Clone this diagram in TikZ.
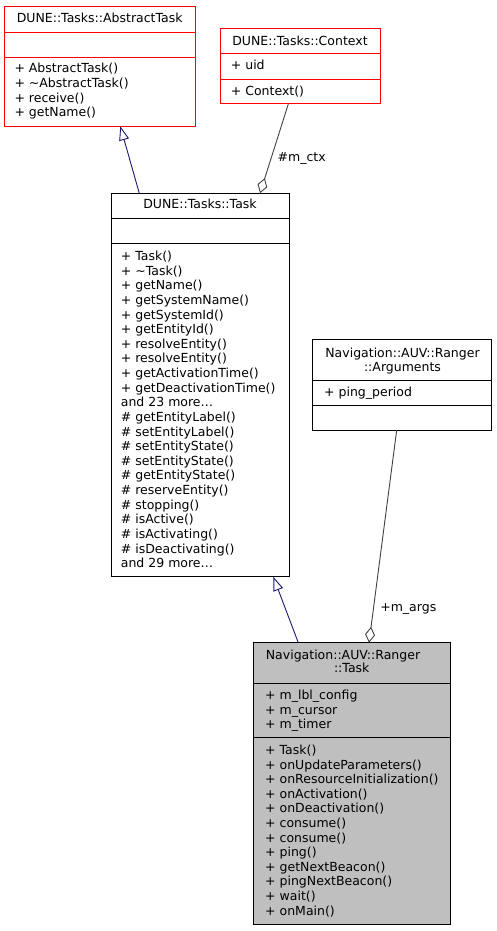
\documentclass[tikz,border=0pt]{standalone}
\usepackage{fontspec}
\setmainfont{DejaVu Sans}
\usetikzlibrary{arrows.meta}
\definecolor{edgeblue}{HTML}{191970}
\definecolor{edgegray}{HTML}{404040}
\definecolor{classgray}{HTML}{BFBFBF}

\begin{document}
\begin{tikzpicture}[x=1pt, y=-1pt,
    every node/.style={font=\fontsize{12.5}{14.6}\selectfont},
    classbox/.style={draw=black, line width=1pt, rectangle, inner sep=0pt, outer sep=0pt, anchor=north west},
    basebox/.style={classbox, draw=red},
    member/.style={anchor=base west, inner sep=0pt},
    title/.style={anchor=base, inner sep=0pt},
    inherit/.style={edgeblue, line width=0.9pt, -{Triangle[open, length=14pt, width=10pt]}},
    aggr/.style={edgegray, line width=0.9pt, {Diamond[open, length=16pt, width=10pt]}-}]
    \useasboundingbox (0,0) rectangle (497,931);

    % DUNE::Tasks::AbstractTask
    \node[basebox, minimum width=190.7pt, minimum height=119.6pt] (abstask) at (4.3,6.7) {};
    \draw[red, line width=1pt] (4.3,32.3) -- (195,32.3) (4.3,57.3) -- (195,57.3);
    \node[title] (abstask-t) at (99.7,22.8) {DUNE::Tasks::AbstractTask};
    \foreach \m [count=\i from 0] in {+ AbstractTask(), + \textasciitilde AbstractTask(), + receive(), + getName()}
        \node[member] (abstask-m\i) at (14.3,72.5+14.8*\i) {\m};

    % DUNE::Tasks::Context
    \node[basebox, minimum width=160pt, minimum height=75.7pt] (ctx) at (220,28.3) {};
    \draw[red, line width=1pt] (220,53.3) -- (380,53.3) (220,79.3) -- (380,79.3);
    \node[title] (ctx-t) at (300,45.2) {DUNE::Tasks::Context};
    \node[member] (ctx-a) at (230.7,69.5) {+ uid};
    \node[member] (ctx-m) at (230.7,95.2) {+ Context()};

    % DUNE::Tasks::Task
    \node[classbox, minimum width=178pt, minimum height=383.4pt] (task) at (111,193.3) {};
    \draw[line width=1pt] (111,218.3) -- (289,218.3) (111,243.3) -- (289,243.3);
    \node[title] (task-t) at (200,208.8) {DUNE::Tasks::Task};
    \foreach \m [count=\i from 0] in {+ Task(), + \textasciitilde Task(), + getName(), + getSystemName(),
        + getSystemId(), + getEntityId(), + resolveEntity(), + resolveEntity(), + getActivationTime(),
        + getDeactivationTime(), and 23 more\ldots, \# getEntityLabel(), \# setEntityLabel(),
        \# setEntityState(), \# setEntityState(), \# getEntityState(), \# reserveEntity(),
        \# stopping(), \# isActive(), \# isActivating(), \# isDeactivating(), and 29 more\ldots}
        \node[member] (task-m\i) at (120.7,260.5+14.63*\i) {\m};

    % Navigation::AUV::Ranger::Arguments
    \node[classbox, minimum width=179pt, minimum height=90.7pt] (args) at (312.7,339.3) {};
    \draw[line width=1pt] (312.7,380) -- (491.7,380) (312.7,405.7) -- (491.7,405.7);
    \node[title] (args-t1) at (402.5,357.8) {Navigation::AUV::Ranger};
    \node[title] (args-t2) at (402.5,371.2) {::Arguments};
    \node[member] (args-a) at (324,396.2) {+ ping\_period};

    % Navigation::AUV::Ranger::Task
    \node[classbox, fill=classgray, minimum width=196.7pt, minimum height=281.6pt] (ranger) at (253.3,642.7) {};
    \draw[line width=1pt] (253.3,683.3) -- (450,683.3) (253.3,737.7) -- (450,737.7);
    \node[title] (ranger-t1) at (343,659.5) {Navigation::AUV::Ranger};
    \node[title] (ranger-t2) at (351.7,672.8) {::Task};
    \foreach \m [count=\i from 0] in {+ m\_lbl\_config, + m\_cursor, + m\_timer}
        \node[member] (ranger-a\i) at (265,699.5+14.6*\i) {\m};
    \foreach \m [count=\i from 0] in {+ Task(), + onUpdateParameters(), + onResourceInitialization(),
        + onActivation(), + onDeactivation(), + consume(), + consume(), + ping(), + getNextBeacon(),
        + pingNextBeacon(), + wait(), + onMain()}
        \node[member] (ranger-m\i) at (265,754.5+14.6*\i) {\m};

    % Vererbung
    \draw[inherit] ([xshift=28.3pt]task.north west) -- ([xshift=116pt]abstask.south west);
    \draw[inherit] ([xshift=45pt]ranger.north west) -- ([xshift=162.3pt]task.south west);

    % Aggregation
    \draw[aggr] ([xshift=149pt]task.north west) -- ([xshift=68.3pt]ctx.south west);
    \node (ctx-lbl) at (301.7,158.3) {\#m\_ctx};
    \draw[aggr] ([xshift=115.7pt]ranger.north west) -- ([xshift=84pt]args.south west);
    \node (args-lbl) at (408.3,609.3) {+m\_args};
\end{tikzpicture}
\end{document}
